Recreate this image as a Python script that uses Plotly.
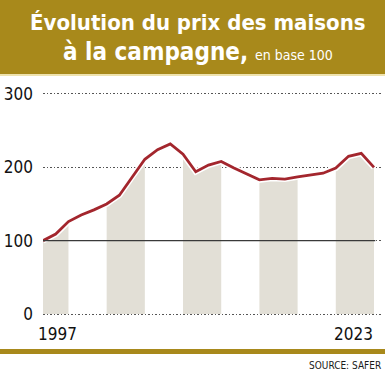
import plotly.graph_objects as go

# ---- data ----
years = list(range(1997, 2024))
index_values = [100, 109, 126, 135, 142, 150, 162, 187, 211, 224, 232, 218, 194, 203, 208,
                199, 191, 183, 185, 184, 187, 190, 192, 199, 215, 219, 200]
shade_starts = [1997, 2002, 2008, 2014, 2020]
shade_ends = [1999, 2005, 2011, 2017, 2023]
y_tick_values = [0, 100, 200, 300]
y_tick_labels = ["0", "100", "200", "300"]
x_tick_values = [1997, 2023]
x_tick_labels = ["1997", "2023"]
title_line1 = "Évolution du prix des maisons"
title_line2_bold = "à la campagne,"
title_line2_light = "en base 100"
source_text = "SOURCE: SAFER"

# ---- layout geometry (pixels) ----
W, H = 385, 371
L, R, T, B = 43, 382, 92, 316
px_per_year = 12.73
x_max = 1997 + (R - L) / px_per_year
y_min, y_max = -2.7, 302.7

def pyp(p):
    return (B - p) / (B - T)

def pxp(p):
    return (p - L) / (R - L)

GOLD = "#A8891B"
RED = "#A3262D"
SHADE = "#E2DFD6"
FONT = "Liberation Sans Narrow, DejaVu Sans Condensed, sans-serif"

fig = go.Figure()

# shaded bands under the curve
for s, e in zip(shade_starts, shade_ends):
    xs = [y for y in years if s <= y <= e]
    ys = [v for y, v in zip(years, index_values) if s <= y <= e]
    fig.add_trace(go.Scatter(x=xs, y=ys, mode="lines", line=dict(width=0, color=SHADE),
                             fill="tozeroy", fillcolor=SHADE, hoverinfo="skip", showlegend=False))

# base-100 line
fig.add_shape(type="line", xref="x", yref="y", x0=years[0], x1=years[-1] + 0.1,
              y0=100, y1=100, line=dict(color="#3a3a3a", width=1.3), layer="above")

# halo + line
fig.add_trace(go.Scatter(x=years, y=index_values, mode="lines",
                         line=dict(color="white", width=6), hoverinfo="skip", showlegend=False))
fig.add_trace(go.Scatter(x=years, y=index_values, mode="lines",
                         line=dict(color=RED, width=2.8), showlegend=False))

# title band
fig.add_shape(type="rect", xref="paper", yref="paper", x0=pxp(0), x1=pxp(W),
              y0=pyp(74), y1=pyp(0), fillcolor=GOLD, line=dict(width=0), layer="below")
fig.add_shape(type="rect", xref="paper", yref="paper", x0=pxp(0), x1=pxp(W),
              y0=pyp(76), y1=pyp(74), fillcolor="#EFE3AE", line=dict(width=0), layer="below")
# bottom band
fig.add_shape(type="rect", xref="paper", yref="paper", x0=pxp(0), x1=pxp(W),
              y0=pyp(354), y1=pyp(349), fillcolor=GOLD, line=dict(width=0), layer="below")

annotations = [
    dict(text="<b>" + title_line1 + "</b>", x=pxp(198), y=pyp(22), xref="paper", yref="paper",
         showarrow=False, xanchor="center", yanchor="middle",
         font=dict(family=FONT, size=22, color="white")),
    dict(text="<b>" + title_line2_bold + "</b> <span style='font-size:14px'>" + title_line2_light + "</span>",
         x=pxp(198), y=pyp(52), xref="paper", yref="paper",
         showarrow=False, xanchor="center", yanchor="middle",
         font=dict(family=FONT, size=24, color="white")),
    dict(text=source_text, x=pxp(383), y=pyp(365), xref="paper", yref="paper",
         showarrow=False, xanchor="right", yanchor="middle",
         font=dict(family=FONT, size=10, color="#1a1a1a")),
]
for val, lab in zip(x_tick_values, x_tick_labels):
    anchor = "left" if val == x_tick_values[0] else "right"
    shift = -7 if anchor == "left" else 1
    annotations.append(dict(text=lab, x=val, y=pyp(334), xref="x", yref="paper",
                            xshift=shift, showarrow=False, xanchor=anchor, yanchor="middle",
                            font=dict(family=FONT, size=17, color="#111")))

fig.update_layout(
    width=W, height=H,
    margin=dict(l=L, r=W - R, t=T, b=H - B, pad=0),
    plot_bgcolor="white", paper_bgcolor="white",
    annotations=annotations,
    hovermode=False,
    xaxis=dict(range=[1997, x_max], showgrid=False, zeroline=False, showticklabels=False,
               showline=False, ticks="", fixedrange=True),
    yaxis=dict(range=[y_min, y_max], tickvals=y_tick_values, ticktext=y_tick_labels,
               showgrid=True, gridcolor="#555", gridwidth=1.4, griddash="1.5px,2px",
               zeroline=False, showline=False, ticks="", ticklabelstandoff=9,
               tickfont=dict(family=FONT, size=17, color="#111"), fixedrange=True),
)

fig.write_html("out.html", config={"displayModeBar": False},
               post_script="document.body.style.margin='0';")
